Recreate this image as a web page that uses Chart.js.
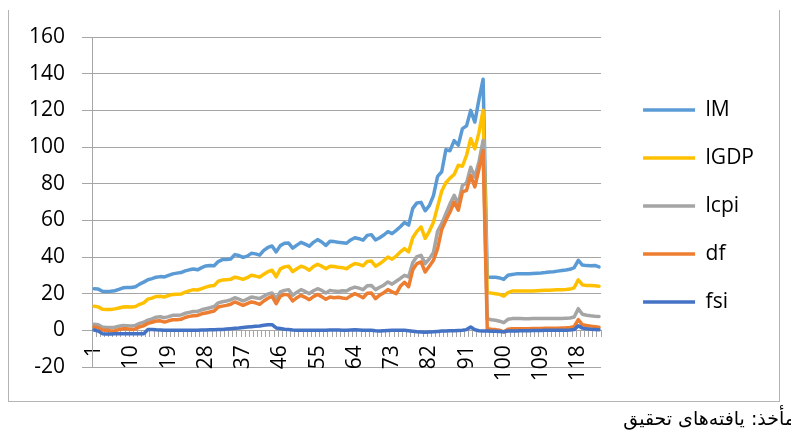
<!DOCTYPE html>
<html>
<head>
<meta charset="utf-8">
<script src="https://cdn.jsdelivr.net/npm/chart.js@4/dist/chart.umd.min.js"></script>
<style>
  body { margin: 0; background: #fff; width: 791px; height: 434px; overflow: hidden; position: relative; }
  #frame { position: absolute; left: 8px; top: 10px; width: 770px; height: 391px;
           border-left: 1px solid #b4b4b4; border-right: 1px solid #b4b4b4; border-bottom: 1px solid #b4b4b4; }
  canvas { position: absolute; left: 0; top: 0; }
  #source { position: absolute; right: -4px; top: 407px; direction: rtl; white-space: nowrap;
            font-family: "DejaVu Sans", sans-serif; font-size: 19px; color: #000; }
</style>
</head>
<body>
<div id="frame"></div>
<canvas id="myChart" width="791" height="434"></canvas>
<div id="source">مأخذ: یافته‌های تحقیق</div>
<script>
// categories 1..123
var categories = [];
for (var i = 1; i <= 123; i++) categories.push(String(i));

var yTicks = [-20, 0, 20, 40, 60, 80, 100, 120, 140, 160];

var lM = [
  22.7, 22.5, 21.3, 21.2, 21.3, 21.6, 22.3, 23.2, 23.3, 23.4,
  23.8, 25.2, 26.3, 27.6, 28.2, 29.0, 29.3, 29.1, 30.0, 30.8,
  31.2, 31.5, 32.4, 33.0, 33.5, 33.0, 34.2, 35.1, 35.4, 35.2,
  37.5, 38.6, 38.7, 38.9, 41.3, 40.8, 39.8, 40.5, 42.0, 41.7,
  41.0, 43.6, 45.2, 46.0, 42.8, 46.2, 47.5, 47.6, 44.8, 46.5,
  48.0, 47.0, 45.9, 48.0, 49.5, 48.2, 46.3, 48.6, 48.4, 48.0,
  47.8, 47.5, 49.3, 50.5, 50.0, 49.2, 51.8, 52.2, 49.3, 50.5,
  52.0, 53.8, 52.8, 54.5, 56.5, 58.8, 57.4, 66.5, 69.5, 69.8,
  65.2, 68.0, 73.5, 84.0, 86.5, 98.5, 98.0, 103.5, 101.0, 110.0,
  111.5, 120.0, 113.6, 126.0, 137.0, 29.0, 29.0, 28.9, 28.6, 27.8,
  30.0, 30.5, 30.8, 30.9, 30.8, 30.8, 31.0, 31.2, 31.3, 31.5,
  31.8, 32.0, 32.3, 32.6, 32.9, 33.3, 34.2, 38.2, 35.6, 35.3,
  35.2, 35.4, 34.6
];

var lGDP = [
  13.1, 12.8, 11.5, 11.3, 11.4, 11.7, 12.2, 12.7, 12.8, 12.7,
  13.0, 14.2, 15.0, 17.0, 17.6, 18.5, 18.6, 18.2, 19.0, 19.6,
  19.7, 19.8, 20.8, 21.5, 22.2, 22.0, 22.8, 23.6, 24.2, 24.4,
  26.8, 27.4, 27.6, 27.8, 29.0, 28.5, 27.8, 28.7, 30.0, 29.6,
  29.0, 30.6, 32.0, 32.8, 29.2, 33.5, 34.6, 35.0, 32.0, 33.6,
  35.0, 34.2, 32.8, 34.8, 36.0, 35.0, 33.6, 35.0, 34.8, 34.4,
  34.2, 33.6, 35.2, 36.4, 36.0, 35.2, 37.6, 37.8, 35.0, 36.3,
  38.0, 40.0, 38.8, 40.5, 42.8, 44.6, 42.8, 50.5, 54.0, 56.4,
  50.2, 54.0, 59.0, 67.5, 76.0, 80.5, 83.0, 85.0, 90.0, 89.5,
  95.5, 104.5, 99.0, 108.0, 120.0, 20.5, 20.3, 20.0, 19.6, 18.7,
  20.6, 21.4, 21.5, 21.4, 21.4, 21.5, 21.5, 21.6, 21.7, 21.8,
  21.9, 22.0, 22.1, 22.2, 22.3, 22.5, 23.2, 27.6, 24.8, 24.5,
  24.4, 24.3, 24.1
];

var lcpi = [
  3.3, 3.0, 1.8, 1.6, 1.5, 1.7, 2.2, 2.6, 2.5, 2.4,
  2.7, 3.8, 4.4, 5.6, 6.2, 7.2, 7.4, 6.9, 7.5, 8.2,
  8.2, 8.4, 9.3, 9.8, 10.3, 10.3, 11.2, 11.8, 12.3, 13.0,
  15.0, 15.6, 16.0, 16.6, 17.8, 17.0, 16.0, 17.0, 18.2, 17.8,
  17.3, 18.6, 19.8, 20.4, 17.3, 21.0, 21.8, 22.2, 19.1, 20.8,
  22.2, 21.2, 20.0, 21.6, 22.7, 21.8, 20.4, 21.8, 21.4, 21.2,
  21.6, 21.4, 22.8, 23.6, 23.0, 22.2, 24.3, 24.5, 22.2, 23.5,
  24.6, 26.4, 25.2, 26.8, 28.3, 30.0, 29.1, 37.0, 40.2, 40.9,
  36.4, 39.0, 42.5, 54.0, 58.2, 63.6, 69.0, 73.6, 69.1, 79.0,
  80.4, 89.0, 83.6, 92.0, 103.6, 6.4, 5.8, 5.5, 5.0, 4.2,
  6.0, 6.4, 6.5, 6.4, 6.3, 6.3, 6.4, 6.4, 6.4, 6.4,
  6.4, 6.5, 6.5, 6.5, 6.6, 6.7, 7.3, 11.8, 8.8, 8.2,
  7.9, 7.7, 7.6
];

var df = [
  1.8, 1.4, 0.2, 0.0, -0.3, -0.2, 0.4, 0.9, 0.8, 0.5,
  0.8, 1.9, 2.5, 3.8, 4.4, 5.1, 5.2, 4.5, 5.2, 5.8,
  5.8, 6.0, 7.0, 7.6, 8.0, 8.1, 9.0, 9.5, 10.0, 10.5,
  12.7, 13.2, 13.6, 14.2, 15.5, 14.6, 13.6, 14.6, 15.5, 15.0,
  14.2, 16.0, 17.5, 18.5, 14.5, 18.6, 19.6, 19.2, 16.0, 17.8,
  19.1, 18.0, 16.7, 18.4, 19.6, 18.4, 16.9, 18.2, 17.8, 18.0,
  17.6, 17.3, 18.8, 20.0, 19.0, 17.8, 20.2, 20.4, 17.3, 19.2,
  20.5, 22.2, 21.0, 20.0, 24.0, 26.2, 23.8, 33.0, 36.4, 37.3,
  31.8, 35.0, 38.2, 44.5, 55.0, 60.0, 64.5, 70.0, 65.5, 75.5,
  76.4, 84.5, 78.2, 88.0, 98.0, 0.9, 0.6, 0.4, 0.0, -0.9,
  0.6, 0.9, 0.9, 0.9, 0.9, 0.9, 1.0, 1.0, 1.0, 1.1,
  1.1, 1.2, 1.2, 1.3, 1.4, 1.6, 2.0, 5.8, 3.0, 2.6,
  2.3, 2.0, 1.7
];

var fsi = [
  0.2, -0.4, -1.8, -2.0, -2.0, -1.9, -1.9, -1.8, -1.8, -1.9,
  -1.9, -1.9, -1.8, 0.4, 0.5, 0.3, 0.2, 0.1, 0.0, 0.0,
  0.0, 0.0, 0.1, 0.1, 0.1, 0.1, 0.2, 0.2, 0.3, 0.3,
  0.4, 0.5, 0.7, 0.9, 1.1, 1.3, 1.6, 1.8, 2.0, 2.2,
  2.4, 2.8, 3.0, 3.1, 1.3, 1.0, 0.6, 0.4, 0.2, 0.1,
  0.0, 0.0, 0.1, 0.1, 0.0, 0.0, 0.1, 0.2, 0.2, 0.2,
  0.1, 0.1, 0.2, 0.3, 0.2, 0.1, 0.0, 0.0, -0.2, -0.3,
  -0.2, -0.1, 0.0, 0.0, 0.1, 0.0, -0.2, -0.5, -0.8, -0.9,
  -1.0, -0.9, -0.8, -0.6, -0.4, -0.3, -0.2, -0.2, -0.1, 0.0,
  0.4, 1.8, 0.3, -0.2, -0.3, -0.4, -0.5, -0.5, -0.6, -0.8,
  -0.4, -0.3, -0.3, -0.2, -0.2, -0.2, -0.1, -0.1, -0.1, 0.0,
  0.0, 0.0, 0.0, 0.1, 0.1, 0.2, 0.4, 2.5, 1.2, 0.8,
  0.6, 0.5, 0.3
];

var seriesNames = ["lM", "lGDP", "lcpi", "df", "fsi"];
var seriesColors = ["#5B9BD5", "#FFC000", "#A5A5A5", "#ED7D31", "#4472C4"];
var seriesValues = [lM, lGDP, lcpi, df, fsi];

var gridColor = "#a6a6a6";

Chart.defaults.font.family = "'Open Sans', sans-serif";
Chart.defaults.font.size = 21;
Chart.defaults.color = "#000";

var datasets = seriesNames.map(function (name, k) {
  return {
    label: name,
    data: seriesValues[k],
    borderColor: seriesColors[k],
    backgroundColor: seriesColors[k],
    borderWidth: 3.5,
    pointRadius: 0,
    tension: 0,
    borderJoinStyle: "round",
    borderCapStyle: "round",
    order: 5 - k, // fsi drawn on top like in excel
  };
});

var data = {
  labels: categories,
  datasets: datasets,
};

// legend sits a bit further from the plot than chart.js puts it
var nudgeLegend = {
  id: "nudgeLegend",
  afterLayout: function (chart) {
    var lg = chart.legend;
    lg.left += 15;
    lg.right += 15;
    lg.top += 4;
    lg.bottom += 4;
  },
};

var options = {
  responsive: false,
  animation: false,
  layout: {
    padding: { left: 12, top: 37, right: 42, bottom: 67 },
  },
  plugins: {
    legend: {
      position: "right",
      labels: {
        sort: function (a, b) { return a.datasetIndex - b.datasetIndex; },
        usePointStyle: true,
        pointStyle: "line",
        pointStyleWidth: 52,
        padding: 27,
        color: "#000",
      },
    },
    tooltip: { enabled: false },
  },
  scales: {
    x: {
      type: "category",
      offset: true,
      position: { y: 0 },
      afterFit: function (scale) { scale.height = 0; },
      grid: {
        offset: true,
        drawOnChartArea: false,
        drawTicks: true,
        tickLength: 6,
        color: gridColor,
      },
      border: { color: gridColor },
      ticks: {
        autoSkip: false,
        minRotation: 90,
        maxRotation: 90,
        padding: 9,
        callback: function (value, index) {
          return index % 9 === 0 ? categories[index] : "";
        },
      },
    },
    y: {
      min: yTicks[0],
      max: yTicks[yTicks.length - 1],
      afterBuildTicks: function (scale) {
        scale.ticks = yTicks.map(function (v) { return { value: v }; });
      },
      grid: { color: gridColor, tickLength: 10 },
      border: { color: gridColor },
      ticks: { padding: 17 },
    },
  },
};

const ctx = document.getElementById("myChart").getContext("2d");
const myChart = new Chart(ctx, {
  type: "line",
  data: data,
  options: options,
  plugins: [nudgeLegend],
});
</script>
</body>
</html>
